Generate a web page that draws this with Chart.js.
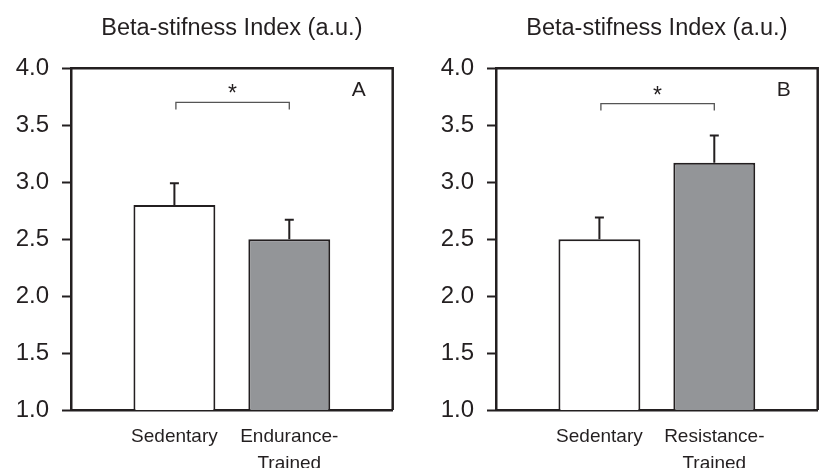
<!DOCTYPE html>
<html><head><meta charset="utf-8">
<script src="https://cdn.jsdelivr.net/npm/chart.js@4"></script>
<style>
html,body{margin:0;padding:0;background:#fff;}
#wrap{position:relative;width:819px;height:468px;overflow:hidden;background:#fff;}
.panel{position:absolute;top:0;height:468px;}
canvas{display:block;}
</style></head><body>
<div id="wrap">
<div class="panel" style="left:0;width:410px"><canvas id="cA" width="410" height="468"></canvas></div>
<div class="panel" style="left:425px;width:394px"><canvas id="cB" width="394" height="468"></canvas></div>
</div>
<script>
// ---- data ----
const titleText = 'Beta-stifness Index (a.u.)';
const categoriesA = [['Sedentary'], ['Endurance-', 'Trained']];
const categoriesB = [['Sedentary'], ['Resistance-', 'Trained']];
const meansA = [2.8, 2.5];
const errorsA = [0.19, 0.17];
const meansB = [2.5, 3.17];
const errorsB = [0.19, 0.24];
const sigA = [0, 1, 3.70];   // from category, to category, bracket value
const sigB = [0, 1, 3.69];
const sigMark = '*';
const panelLetters = ['A', 'B'];
const yMin = 1.0, yMax = 4.0, yStep = 0.5;

const INK = '#231f20';
const FONT = "'Liberation Sans', Arial, Helvetica, sans-serif";

function makeChart(id, cats, means, errs, sig, letter, rightPad) {
  const overlay = {
    id: 'overlay' + id,
    afterDraw(chart) {
      const {ctx, chartArea: a, scales: {x, y}} = chart;
      ctx.save();
      // top & right frame
      ctx.strokeStyle = INK; ctx.lineWidth = 2.5;
      ctx.beginPath();
      ctx.moveTo(a.left, a.top); ctx.lineTo(a.right, a.top); ctx.lineTo(a.right, a.bottom);
      ctx.stroke();
      // error bars (upper only)
      ctx.lineWidth = 2;
      means.forEach((m, i) => {
        const px = x.getPixelForValue(i);
        const y0 = y.getPixelForValue(m);
        const y1 = y.getPixelForValue(m + errs[i]);
        ctx.beginPath();
        ctx.moveTo(px, y0); ctx.lineTo(px, y1);
        ctx.moveTo(px - 4.5, y1); ctx.lineTo(px + 4.5, y1);
        ctx.stroke();
      });
      // significance bracket
      const bx0 = x.getPixelForValue(sig[0]) + 1.5;
      const bx1 = x.getPixelForValue(sig[1]);
      const by = y.getPixelForValue(sig[2]);
      ctx.strokeStyle = '#555'; ctx.lineWidth = 1.3;
      ctx.beginPath();
      ctx.moveTo(bx0, by + 7); ctx.lineTo(bx0, by); ctx.lineTo(bx1, by); ctx.lineTo(bx1, by + 7);
      ctx.stroke();
      ctx.fillStyle = INK;
      ctx.font = '23px ' + FONT;
      ctx.textAlign = 'center'; ctx.textBaseline = 'alphabetic';
      ctx.fillText(sigMark, (bx0 + bx1) / 2, by - 1);
      // panel letter
      ctx.font = '21px ' + FONT;
      ctx.textBaseline = 'middle';
      ctx.fillText(letter, a.right - 34, a.top + 22);
      ctx.restore();
    }
  };

  return new Chart(document.getElementById(id), {
    type: 'bar',
    data: {
      datasets: [{
        data: means.map((m, i) => ({x: i, y: m})),
        backgroundColor: ['#ffffff', '#939598'],
        borderColor: INK,
        borderWidth: 2,
        barPercentage: 0.713,
        categoryPercentage: 1
      }]
    },
    options: {
      responsive: false,
      devicePixelRatio: 1,
      animation: false,
      layout: {padding: {left: 0, right: rightPad, top: 0, bottom: 0}},
      plugins: {
        legend: {display: false},
        tooltip: {enabled: false},
        title: {
          display: true, text: titleText, color: INK, fullSize: false,
          font: {family: FONT, size: 23.5, weight: 'normal', lineHeight: 1.2},
          padding: {top: 14, bottom: 26.1}
        }
      },
      scales: {
        x: {
          type: 'linear', min: -0.9, max: 1.9, offset: false,
          grid: {display: false, drawTicks: false},
          border: {display: true, color: INK, width: 2.5},
          afterBuildTicks: s => { s.ticks = cats.map((c, i) => ({value: i})); },
          afterFit: s => { s.height = 58; },
          ticks: {
            autoSkip: false, maxRotation: 0, minRotation: 0,
            color: INK, padding: 13,
            font: {family: FONT, size: 19, lineHeight: 1.42},
            callback: v => cats[v]
          }
        },
        y: {
          min: yMin, max: yMax,
          grid: {drawOnChartArea: false, drawTicks: true, tickLength: 9, tickWidth: 2, tickColor: INK},
          border: {display: true, color: INK, width: 2.5},
          afterFit: s => { s.width = 71; },
          ticks: {
            stepSize: yStep, color: INK, padding: 13,
            font: {family: FONT, size: 24},
            callback: v => Number(v).toFixed(1)
          }
        }
      }
    },
    plugins: [overlay]
  });
}

makeChart('cA', categoriesA, meansA, errorsA, sigA, panelLetters[0], 17.3);
makeChart('cB', categoriesB, meansB, errorsB, sigB, panelLetters[1], 1.3);
</script>
</body></html>
